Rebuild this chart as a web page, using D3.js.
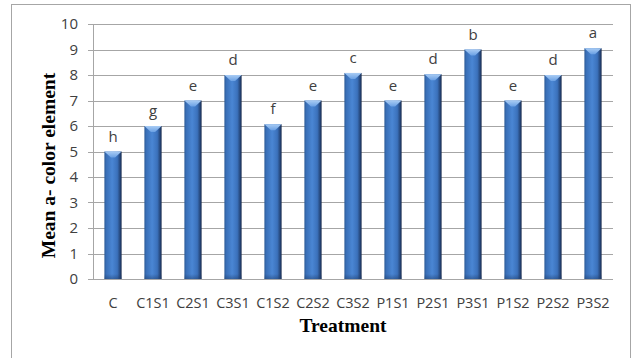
<!DOCTYPE html>
<html>
<head>
<meta charset="utf-8">
<script src="https://cdn.jsdelivr.net/npm/d3@7"></script>
<style>
  html, body { margin: 0; padding: 0; background: #fff; }
  svg { display: block; }
</style>
</head>
<body>
<svg id="chart" width="633" height="358"></svg>
<script>
// Treatments along the x axis
const categories = ["C", "C1S1", "C2S1", "C3S1", "C1S2", "C2S2", "C3S2", "P1S1", "P2S1", "P3S1", "P1S2", "P2S2", "P3S2"];
// Mean a- colour element per treatment
const values = [5, 6, 7, 8, 6.07, 7, 8.08, 7, 8.03, 9, 7, 8, 9.05];
// Significance letters shown above each bar
const letters = ["h", "g", "e", "d", "f", "e", "c", "e", "d", "b", "e", "d", "a"];
// Y axis ticks
const yTicks = [0, 1, 2, 3, 4, 5, 6, 7, 8, 9, 10];

const svg = d3.select("#chart");
const W = 633, H = 358;
const margin = { left: 93, right: 20, top: 24, bottom: 79 };
const labelFont = "'Open Sans', sans-serif";
const titleFont = "'Liberation Serif', 'Times New Roman', serif";

// Chart frame
svg.append("rect")
  .attr("x", 11.5).attr("y", 4.5)
  .attr("width", 619).attr("height", 360)
  .attr("fill", "#fff")
  .attr("stroke", "#a6a6a6").attr("stroke-width", 1);

const x = d3.scaleBand()
  .domain(categories)
  .range([margin.left, W - margin.right])
  .paddingInner(0.57).paddingOuter(0.285);

const y = d3.scaleLinear()
  .domain([0, 10])
  .range([H - margin.bottom, margin.top]);

// Gradients for the bevelled bars
const defs = svg.append("defs");
const g1 = defs.append("linearGradient").attr("id", "barGrad")
  .attr("x1", "0").attr("x2", "1").attr("y1", "0").attr("y2", "0");
[[0, "#2c5a96"], [0.12, "#3a70b8"], [0.45, "#4a86d4"], [0.75, "#3b71bb"], [0.9, "#27497e"], [1, "#16284a"]]
  .forEach(([o, c]) => g1.append("stop").attr("offset", o).attr("stop-color", c));
const g2 = defs.append("linearGradient").attr("id", "capGrad")
  .attr("x1", "0").attr("x2", "0").attr("y1", "0").attr("y2", "1");
[[0, "#a9ccf4"], [1, "#6aa0e4"]]
  .forEach(([o, c]) => g2.append("stop").attr("offset", o).attr("stop-color", c));
const g3 = defs.append("linearGradient").attr("id", "baseGrad")
  .attr("x1", "0").attr("x2", "0").attr("y1", "0").attr("y2", "1");
[[0, "#1e3a66", 0], [1, "#1e3a66", 0.45]]
  .forEach(([o, c, op]) => g3.append("stop").attr("offset", o).attr("stop-color", c).attr("stop-opacity", op));

// Gridlines with small tick stubs on the left
svg.append("g").selectAll("line")
  .data(yTicks)
  .join("line")
  .attr("x1", margin.left - 5).attr("x2", W - margin.right)
  .attr("y1", d => Math.round(y(d)) + 0.5).attr("y2", d => Math.round(y(d)) + 0.5)
  .attr("stroke", "#a6a6a6").attr("stroke-width", 1);

// Y axis line
svg.append("line")
  .attr("x1", margin.left + 0.5).attr("x2", margin.left + 0.5)
  .attr("y1", y(10)).attr("y2", y(0))
  .attr("stroke", "#a6a6a6");

// Y axis labels
const yAxis = d3.axisLeft(y).tickValues(yTicks).tickSize(0).tickPadding(15);
const ya = svg.append("g").attr("transform", `translate(${margin.left},0)`).call(yAxis);
ya.select(".domain").remove();
ya.selectAll("text")
  .attr("font-family", labelFont)
  .attr("font-size", 15).attr("fill", "#404040");

// X axis labels
const xAxis = d3.axisBottom(x).tickSize(0).tickPadding(19);
const xa = svg.append("g").attr("transform", `translate(0,${y(0)})`).call(xAxis);
xa.select(".domain").remove();
xa.selectAll("text")
  .attr("font-family", labelFont)
  .attr("font-size", 14.5).attr("fill", "#404040");

// Bars
const bars = svg.append("g");
const data = categories.map((c, i) => ({ c, v: values[i], l: letters[i] }));
const bw = x.bandwidth();
bars.selectAll("rect.bar")
  .data(data)
  .join("rect")
  .attr("class", "bar")
  .attr("x", d => x(d.c))
  .attr("y", d => y(d.v))
  .attr("width", bw)
  .attr("height", d => y(0) - y(d.v))
  .attr("fill", "url(#barGrad)");

// Light bevelled cap on each bar top
bars.selectAll("path.cap")
  .data(data)
  .join("path")
  .attr("class", "cap")
  .attr("d", d => {
    const x0 = x(d.c), yt = y(d.v);
    return `M${x0},${yt} L${x0 + bw},${yt} L${x0 + bw * 0.62},${yt + 6} L${x0 + bw * 0.38},${yt + 6} Z`;
  })
  .attr("fill", "url(#capGrad)");

// Soft shade at the bar base
bars.selectAll("rect.base")
  .data(data)
  .join("rect")
  .attr("class", "base")
  .attr("x", d => x(d.c))
  .attr("y", y(0) - 5)
  .attr("width", bw)
  .attr("height", 5)
  .attr("fill", "url(#baseGrad)");

// Significance letters
svg.append("g").selectAll("text")
  .data(data)
  .join("text")
  .attr("x", d => x(d.c) + bw / 2)
  .attr("y", d => y(d.v) - 10)
  .attr("text-anchor", "middle")
  .attr("font-family", labelFont)
  .attr("font-size", 15).attr("fill", "#404040")
  .text(d => d.l);

// Axis titles
svg.append("text")
  .attr("transform", `translate(55,${(y(0) + y(10)) / 2 + 14}) rotate(-90)`)
  .attr("text-anchor", "middle")
  .attr("font-family", titleFont)
  .attr("font-weight", "bold").attr("font-size", 19.5).attr("fill", "#000")
  .text("Mean a- color element");

svg.append("text")
  .attr("x", 343)
  .attr("y", 332)
  .attr("text-anchor", "middle")
  .attr("font-family", titleFont)
  .attr("font-weight", "bold").attr("font-size", 19.5).attr("fill", "#000")
  .text("Treatment");
</script>
</body>
</html>
